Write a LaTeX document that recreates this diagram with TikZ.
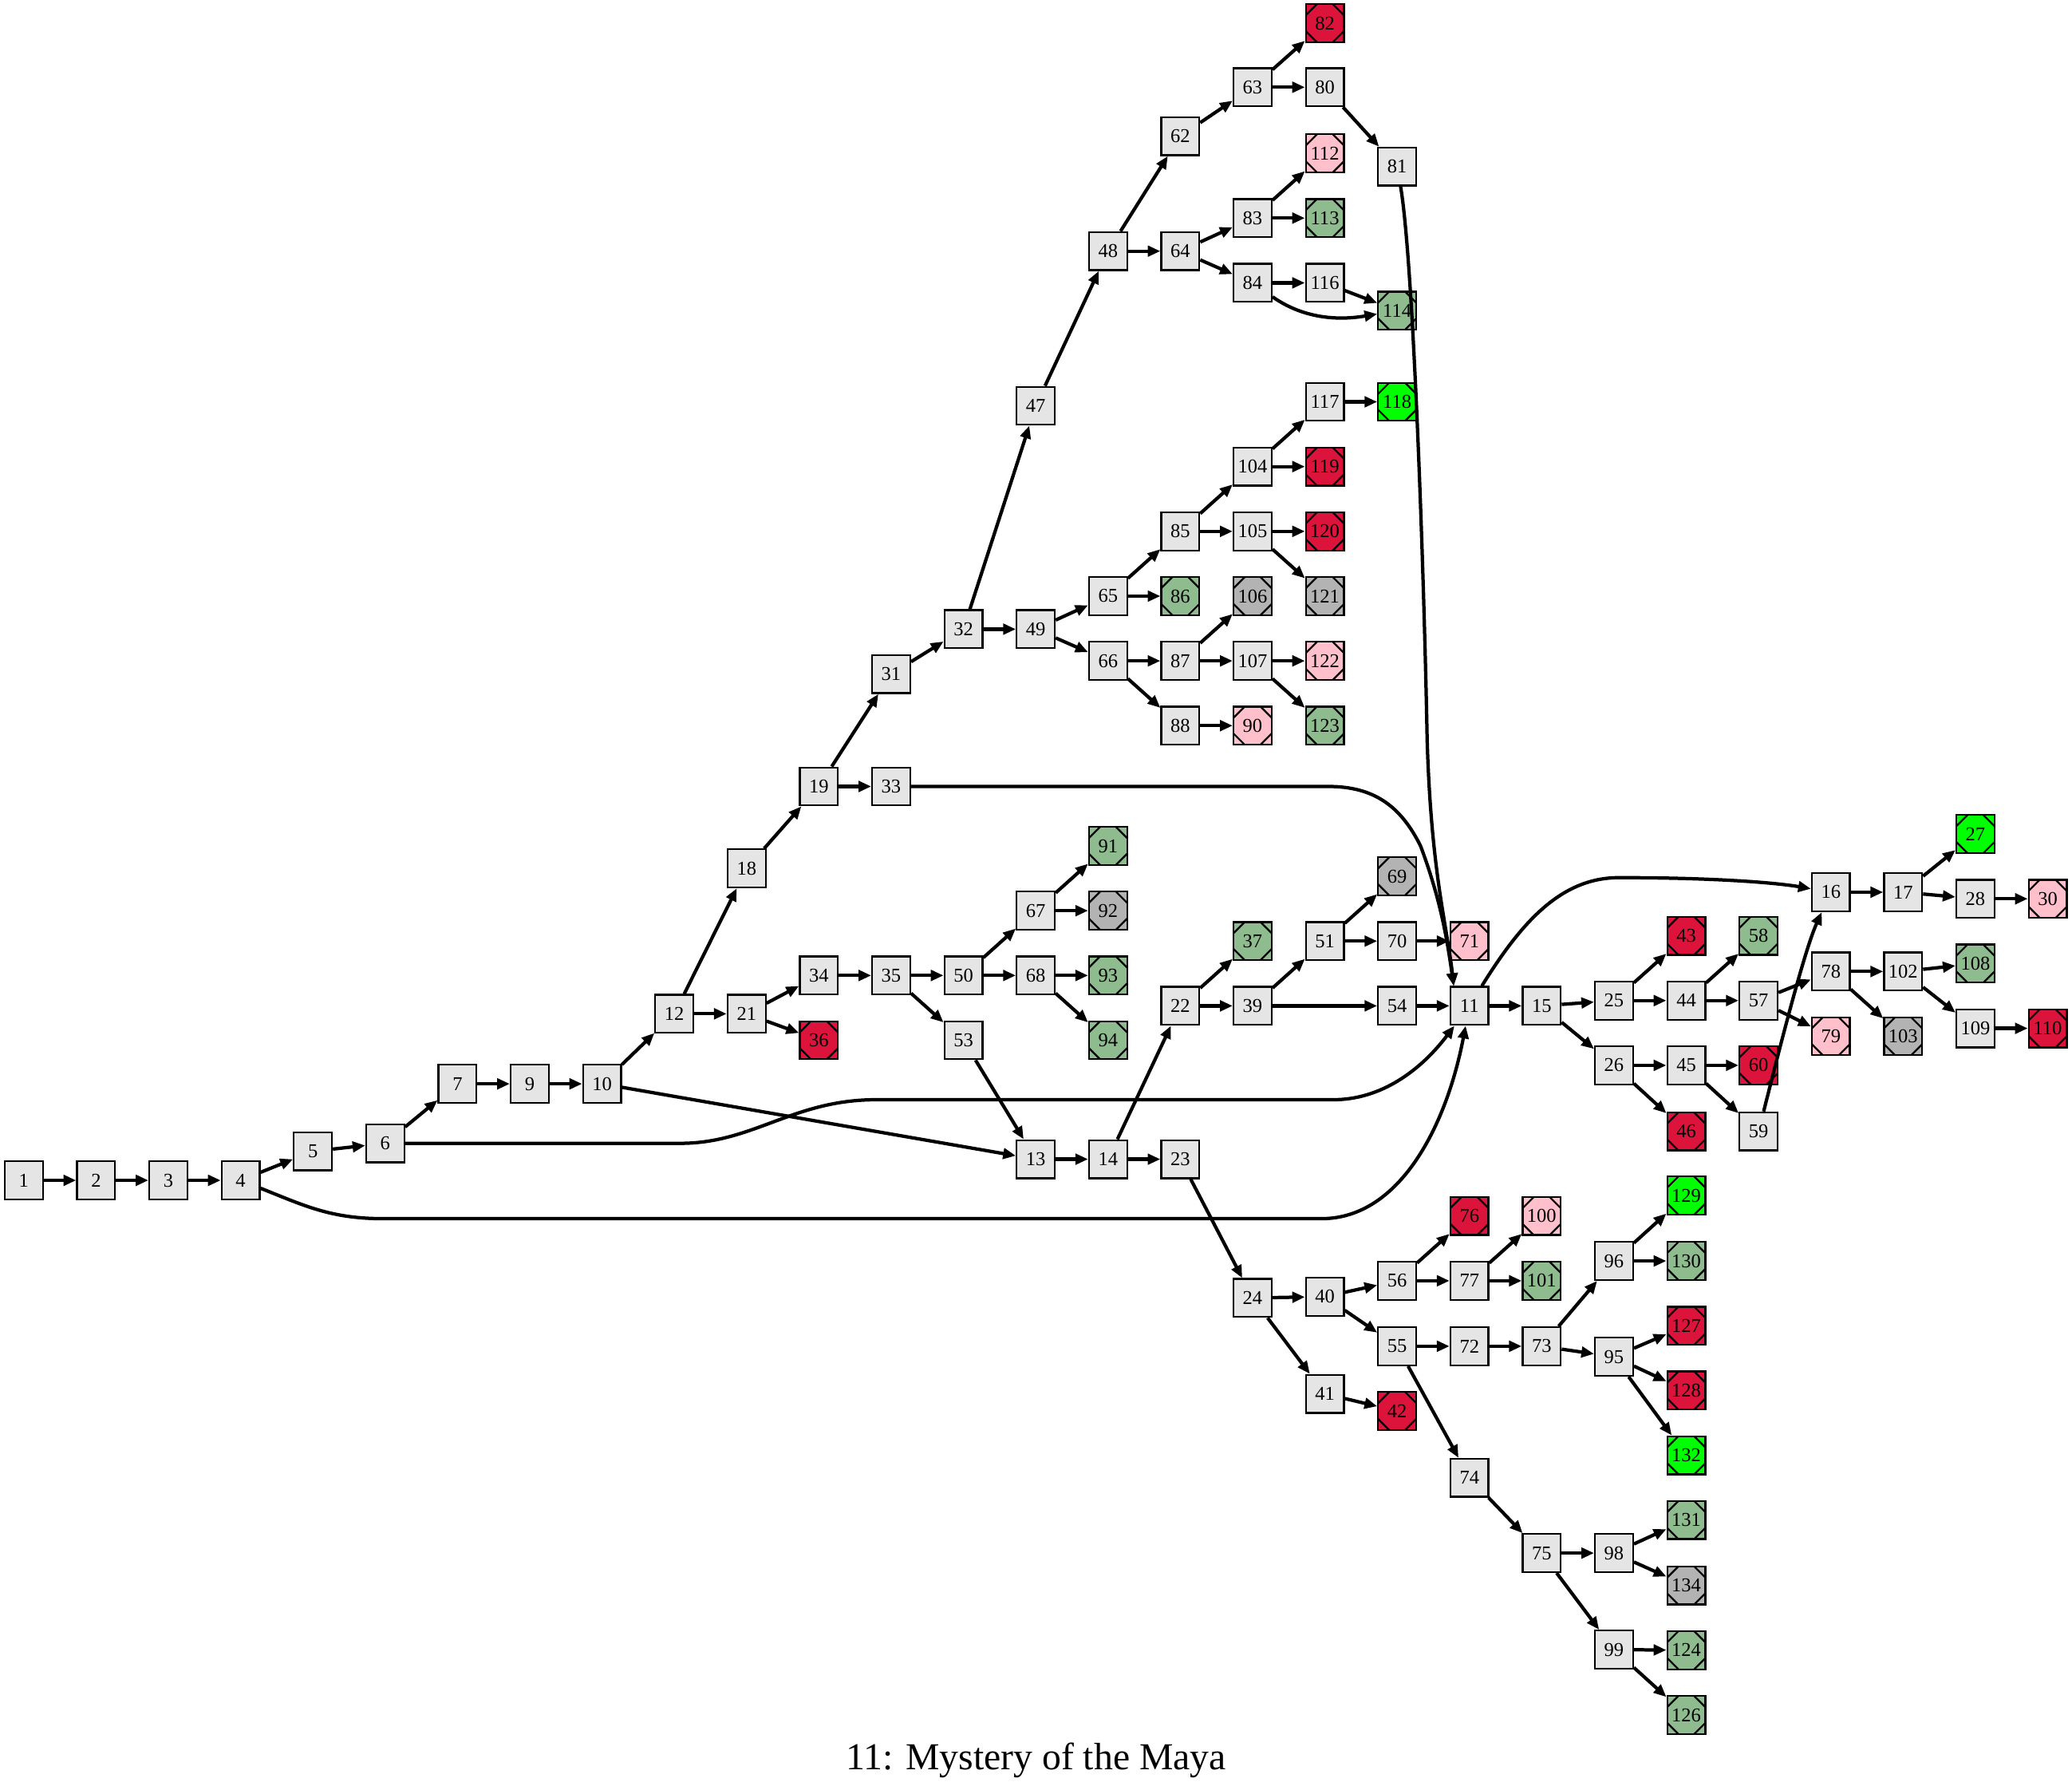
\documentclass[tikz,border=0pt]{standalone}
\usepackage{fontspec}
\setmainfont{Liberation Serif}
\usetikzlibrary{arrows.meta}
\definecolor{boxgray}{HTML}{E5E5E5}
\definecolor{crim}{HTML}{DC143C}
\definecolor{pinkc}{HTML}{FFC0CB}
\definecolor{seag}{HTML}{8FBC8F}
\definecolor{limec}{HTML}{00FF00}
\definecolor{msgray}{HTML}{B3B3B3}
\tikzset{
  gbox/.style={draw=black, fill=boxgray, line width=1.7pt, minimum size=36pt, inner sep=0pt, font=\fontsize{18.5}{18.5}\selectfont},
  msq/.style={gbox, fill=#1, path picture={
      \draw[line width=1.7pt] ([yshift=-10.5pt]path picture bounding box.north west) -- ([xshift=10.5pt]path picture bounding box.north west);
      \draw[line width=1.7pt] ([yshift=-10.5pt]path picture bounding box.north east) -- ([xshift=-10.5pt]path picture bounding box.north east);
      \draw[line width=1.7pt] ([yshift=10.5pt]path picture bounding box.south west) -- ([xshift=10.5pt]path picture bounding box.south west);
      \draw[line width=1.7pt] ([yshift=10.5pt]path picture bounding box.south east) -- ([xshift=-10.5pt]path picture bounding box.south east);
    }},
  red/.style={msq=crim}, pnk/.style={msq=pinkc}, sea/.style={msq=seag}, lim/.style={msq=limec}, gry/.style={msq=msgray},
  e/.style={line width=3.2pt, -{Triangle[length=12pt,width=10pt]}}
}
\begin{document}
\begin{tikzpicture}[x=1.25pt,y=-1.25pt]
\useasboundingbox (0,0) rectangle (1568,1354);
% nodes
\node[gbox] (n1) at (18,893) {1};
\node[gbox] (n2) at (72.7,893) {2};
\node[gbox] (n3) at (127.4,893) {3};
\node[gbox] (n4) at (182.1,893) {4};
\node[gbox] (n5) at (236.8,871) {5};
\node[gbox] (n6) at (291.5,865) {6};
\node[gbox] (n7) at (346.2,820) {7};
\node[gbox] (n9) at (400.9,820) {9};
\node[gbox] (n10) at (455.6,820) {10};
\node[gbox] (n12) at (510.3,767) {12};
\node[gbox] (n18) at (565,657) {18};
\node[gbox] (n21) at (565,767) {21};
\node[gbox] (n19) at (619.7,595) {19};
\node[gbox] (n34) at (619.7,738) {34};
\node[red] (n36) at (619.7,787) {36};
\node[gbox] (n31) at (674.4,510) {31};
\node[gbox] (n33) at (674.4,595) {33};
\node[gbox] (n35) at (674.4,738) {35};
\node[gbox] (n32) at (729.1,476) {32};
\node[gbox] (n50) at (729.1,738) {50};
\node[gbox] (n53) at (729.1,787) {53};
\node[gbox] (n47) at (783.8,307) {47};
\node[gbox] (n49) at (783.8,476) {49};
\node[gbox] (n67) at (783.8,689) {67};
\node[gbox] (n68) at (783.8,738) {68};
\node[gbox] (n13) at (783.8,877) {13};
\node[gbox] (n48) at (838.5,190) {48};
\node[gbox] (n65) at (838.5,451) {65};
\node[gbox] (n66) at (838.5,500) {66};
\node[sea] (n91) at (838.5,640) {91};
\node[gry] (n92) at (838.5,689) {92};
\node[sea] (n93) at (838.5,738) {93};
\node[sea] (n94) at (838.5,787) {94};
\node[gbox] (n14) at (838.5,877) {14};
\node[gbox] (n62) at (893.2,103) {62};
\node[gbox] (n64) at (893.2,190) {64};
\node[gbox] (n85) at (893.2,402) {85};
\node[sea] (n86) at (893.2,451) {86};
\node[gbox] (n87) at (893.2,500) {87};
\node[gbox] (n88) at (893.2,549) {88};
\node[gbox] (n22) at (893.2,761) {22};
\node[gbox] (n23) at (893.2,877) {23};
\node[gbox] (n63) at (947.9,66) {63};
\node[gbox] (n83) at (947.9,165) {83};
\node[gbox] (n84) at (947.9,214) {84};
\node[gbox] (n104) at (947.9,353) {104};
\node[gbox] (n105) at (947.9,402) {105};
\node[gry] (n106) at (947.9,451) {106};
\node[gbox] (n107) at (947.9,500) {107};
\node[pnk] (n90) at (947.9,549) {90};
\node[sea] (n37) at (947.9,712) {37};
\node[gbox] (n39) at (947.9,761) {39};
\node[gbox] (n24) at (947.9,982) {24};
\node[red] (n82) at (1002.6,17.5) {82};
\node[gbox] (n80) at (1002.6,66) {80};
\node[pnk] (n112) at (1002.6,116) {112};
\node[sea] (n113) at (1002.6,165) {113};
\node[gbox] (n116) at (1002.6,214) {116};
\node[gbox] (n117) at (1002.6,304) {117};
\node[red] (n119) at (1002.6,353) {119};
\node[red] (n120) at (1002.6,402) {120};
\node[gry] (n121) at (1002.6,451) {121};
\node[pnk] (n122) at (1002.6,500) {122};
\node[sea] (n123) at (1002.6,549) {123};
\node[gbox] (n51) at (1002.6,712) {51};
\node[gbox] (n40) at (1002.6,981) {40};
\node[gbox] (n41) at (1002.6,1054.5) {41};
\node[gbox] (n81) at (1057.3,126) {81};
\node[sea] (n114) at (1057.3,235) {114};
\node[lim] (n118) at (1057.3,304) {118};
\node[gry] (n69) at (1057.3,663) {69};
\node[gbox] (n70) at (1057.3,712) {70};
\node[gbox] (n54) at (1057.3,761) {54};
\node[gbox] (n56) at (1057.3,969) {56};
\node[gbox] (n55) at (1057.3,1018.5) {55};
\node[red] (n42) at (1057.3,1067.5) {42};
\node[pnk] (n71) at (1112,712) {71};
\node[gbox] (n11) at (1112,761) {11};
\node[red] (n76) at (1112,920) {76};
\node[gbox] (n77) at (1112,969) {77};
\node[gbox] (n72) at (1112,1018.5) {72};
\node[gbox] (n74) at (1112,1118) {74};
\node[gbox] (n15) at (1166.7,761) {15};
\node[pnk] (n100) at (1166.7,920) {100};
\node[sea] (n101) at (1166.7,969) {101};
\node[gbox] (n73) at (1166.7,1018.5) {73};
\node[gbox] (n75) at (1166.7,1175) {75};
\node[gbox] (n25) at (1221.4,757) {25};
\node[gbox] (n26) at (1221.4,806) {26};
\node[gbox] (n96) at (1221.4,954) {96};
\node[gbox] (n95) at (1221.4,1026.5) {95};
\node[gbox] (n98) at (1221.4,1175) {98};
\node[gbox] (n99) at (1221.4,1248) {99};
\node[red] (n43) at (1276.1,708) {43};
\node[gbox] (n44) at (1276.1,757) {44};
\node[gbox] (n45) at (1276.1,806) {45};
\node[red] (n46) at (1276.1,856) {46};
\node[lim] (n129) at (1276.1,904.5) {129};
\node[sea] (n130) at (1276.1,954) {130};
\node[red] (n127) at (1276.1,1003) {127};
\node[red] (n128) at (1276.1,1052) {128};
\node[lim] (n132) at (1276.1,1101) {132};
\node[sea] (n131) at (1276.1,1150) {131};
\node[gry] (n134) at (1276.1,1199.5) {134};
\node[sea] (n124) at (1276.1,1248.5) {124};
\node[sea] (n126) at (1276.1,1297.5) {126};
\node[sea] (n58) at (1330.8,708) {58};
\node[gbox] (n57) at (1330.8,757) {57};
\node[red] (n60) at (1330.8,806) {60};
\node[gbox] (n59) at (1330.8,856) {59};
\node[gbox] (n16) at (1385.5,675) {16};
\node[gbox] (n78) at (1385.5,735) {78};
\node[pnk] (n79) at (1385.5,784) {79};
\node[gbox] (n17) at (1440.2,675) {17};
\node[gbox] (n102) at (1440.2,735) {102};
\node[gry] (n103) at (1440.2,784) {103};
\node[lim] (n27) at (1494.9,631) {27};
\node[gbox] (n28) at (1494.9,680) {28};
\node[sea] (n108) at (1494.9,729) {108};
\node[gbox] (n109) at (1494.9,778) {109};
\node[pnk] (n30) at (1549.6,680) {30};
\node[red] (n110) at (1549.6,778) {110};
\node[anchor=base, font=\fontsize{36}{36}\selectfont] (title) at (784,1339) {11: Mystery of the Maya};
% edges
\draw[e] (n1) -- (n2);
\draw[e] (n2) -- (n3);
\draw[e] (n3) -- (n4);
\draw[e] (n4) -- (n5);
\draw[e] (n4) .. controls (230,912) and (250,922) .. (290,922) -- (1000,922) .. controls (1060,922) and (1095,850) .. (n11);
\draw[e] (n5) -- (n6);
\draw[e] (n6) -- (n7);
\draw[e] (n6) -- (515,865) .. controls (570,865) and (600,832) .. (663,832) -- (1009,832) .. controls (1045,832) and (1075,810) .. (n11);
\draw[e] (n7) -- (n9);
\draw[e] (n9) -- (n10);
\draw[e] (n10) -- (n12);
\draw[e] (n10) -- (n13);
\draw[e] (n12) -- (n18);
\draw[e] (n12) -- (n21);
\draw[e] (n18) -- (n19);
\draw[e] (n19) -- (n31);
\draw[e] (n19) -- (n33);
\draw[e] (n33) -- (1005,595) .. controls (1040,595) and (1060,610) .. (1075,640) .. controls (1090,680) and (1095,710) .. ([xshift=4pt]n11.north west);
\draw[e] (n31) -- (n32);
\draw[e] (n32) -- (n47);
\draw[e] (n32) -- (n49);
\draw[e] (n47) -- (n48);
\draw[e] (n48) -- (n62);
\draw[e] (n48) -- (n64);
\draw[e] (n62) -- (n63);
\draw[e] (n63) -- (n82);
\draw[e] (n63) -- (n80);
\draw[e] (n80) -- (n81);
\draw[e] (n81) .. controls (1070,200) and (1078,450) .. (1080,560) .. controls (1083,660) and (1095,700) .. ([xshift=4pt]n11.north west);
\draw[e] (n64) -- (n83);
\draw[e] (n64) -- (n84);
\draw[e] (n83) -- (n112);
\draw[e] (n83) -- (n113);
\draw[e] (n84) -- (n116);
\draw[e] (n84) .. controls (985,240) and (1010,243) .. (n114);
\draw[e] (n116) -- (n114);
\draw[e] (n49) -- (n65);
\draw[e] (n49) -- (n66);
\draw[e] (n65) -- (n85);
\draw[e] (n65) -- (n86);
\draw[e] (n85) -- (n104);
\draw[e] (n85) -- (n105);
\draw[e] (n104) -- (n117);
\draw[e] (n104) -- (n119);
\draw[e] (n117) -- (n118);
\draw[e] (n105) -- (n120);
\draw[e] (n105) -- (n121);
\draw[e] (n66) -- (n87);
\draw[e] (n66) -- (n88);
\draw[e] (n87) -- (n106);
\draw[e] (n87) -- (n107);
\draw[e] (n107) -- (n122);
\draw[e] (n107) -- (n123);
\draw[e] (n88) -- (n90);
\draw[e] (n21) -- (n34);
\draw[e] (n21) -- (n36);
\draw[e] (n34) -- (n35);
\draw[e] (n35) -- (n50);
\draw[e] (n35) -- (n53);
\draw[e] (n50) -- (n67);
\draw[e] (n50) -- (n68);
\draw[e] (n67) -- (n91);
\draw[e] (n67) -- (n92);
\draw[e] (n68) -- (n93);
\draw[e] (n68) -- (n94);
\draw[e] (n53) -- (n13);
\draw[e] (n13) -- (n14);
\draw[e] (n14) -- (n22);
\draw[e] (n14) -- (n23);
\draw[e] (n22) -- (n37);
\draw[e] (n22) -- (n39);
\draw[e] (n39) -- (n51);
\draw[e] (n39) -- (n54);
\draw[e] (n51) -- (n69);
\draw[e] (n51) -- (n70);
\draw[e] (n70) -- (n71);
\draw[e] (n54) -- (n11);
\draw[e] (n11) -- (n15);
\draw[e] (n11) .. controls (1150,700) and (1180,664) .. (1225,664) .. controls (1300,664) and (1345,668) .. (n16);
\draw[e] (n15) -- (n25);
\draw[e] (n15) -- (n26);
\draw[e] (n25) -- (n43);
\draw[e] (n25) -- (n44);
\draw[e] (n44) -- (n58);
\draw[e] (n44) -- (n57);
\draw[e] (n57) -- (n78);
\draw[e] (n57) -- (n79);
\draw[e] (n26) -- (n45);
\draw[e] (n26) -- (n46);
\draw[e] (n45) -- (n60);
\draw[e] (n45) -- (n59);
\draw[e] (n59) .. controls (1345,800) and (1365,720) .. (n16);
\draw[e] (n16) -- (n17);
\draw[e] (n17) -- (n27);
\draw[e] (n17) -- (n28);
\draw[e] (n28) -- (n30);
\draw[e] (n78) -- (n102);
\draw[e] (n78) -- (n103);
\draw[e] (n102) -- (n108);
\draw[e] (n102) -- (n109);
\draw[e] (n109) -- (n110);
\draw[e] (n23) -- (n24);
\draw[e] (n24) -- (n40);
\draw[e] (n24) -- (n41);
\draw[e] (n41) -- (n42);
\draw[e] (n40) -- (n56);
\draw[e] (n40) -- (n55);
\draw[e] (n56) -- (n76);
\draw[e] (n56) -- (n77);
\draw[e] (n77) -- (n100);
\draw[e] (n77) -- (n101);
\draw[e] (n55) -- (n72);
\draw[e] (n55) -- (n74);
\draw[e] (n72) -- (n73);
\draw[e] (n73) -- (n96);
\draw[e] (n73) -- (n95);
\draw[e] (n96) -- (n129);
\draw[e] (n96) -- (n130);
\draw[e] (n95) -- (n127);
\draw[e] (n95) -- (n128);
\draw[e] (n95) -- (n132);
\draw[e] (n74) -- (n75);
\draw[e] (n75) -- (n98);
\draw[e] (n75) -- (n99);
\draw[e] (n98) -- (n131);
\draw[e] (n98) -- (n134);
\draw[e] (n99) -- (n124);
\draw[e] (n99) -- (n126);
\end{tikzpicture}
\end{document}
